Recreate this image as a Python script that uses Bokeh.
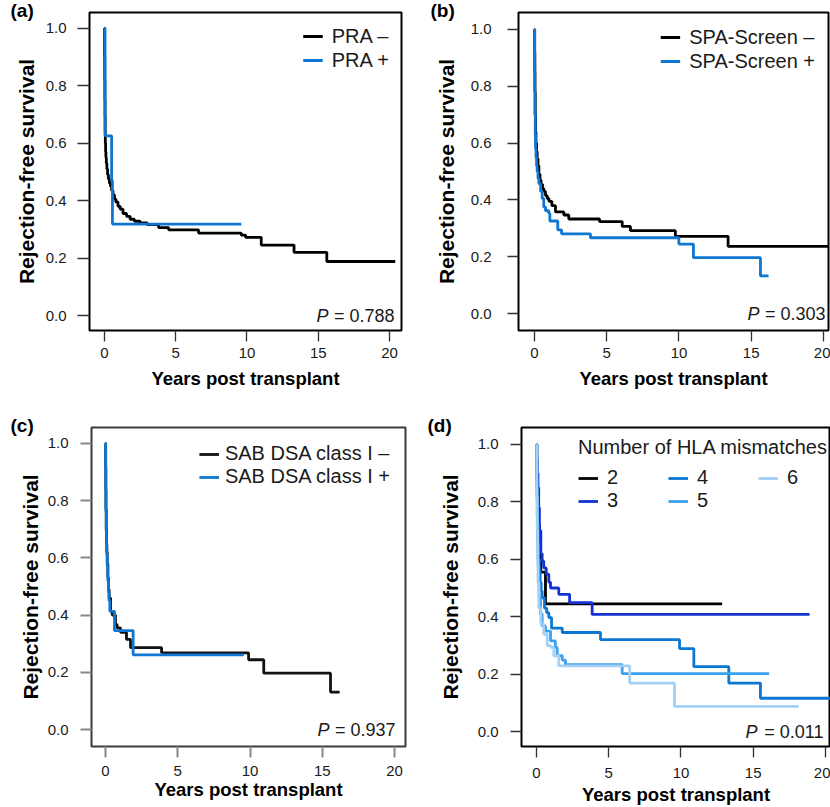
from bokeh.plotting import figure
from bokeh.layouts import column, row
from bokeh.models import Range1d, FixedTicker, PrintfTickFormatter, Legend, LegendItem, Label
from bokeh.embed import file_html
from bokeh.resources import INLINE

FONT = "Liberation Sans"

# ---------------- data ----------------
x_ticks = [0, 5, 10, 15, 20]
y_ticks = [0.0, 0.2, 0.4, 0.6, 0.8, 1.0]

# (a) PRA
pra_neg_t = [0, 0.01, 0.02, 0.03, 0.04, 0.05, 0.06, 0.08, 0.1, 0.13, 0.17, 0.22, 0.28, 0.35, 0.42, 0.5,
             0.6, 0.7, 0.8, 0.95, 1.1, 1.3, 1.55, 1.8, 2.1, 2.5, 3.0, 3.8, 4.5, 6.6, 9.6, 9.9, 11.0,
             13.3, 15.6, 20.4]
pra_neg_s = [1.0, 0.9, 0.82, 0.75, 0.69, 0.64, 0.6, 0.57, 0.55, 0.53, 0.51, 0.49, 0.475, 0.46, 0.45, 0.435,
             0.42, 0.405, 0.395, 0.38, 0.37, 0.355, 0.345, 0.335, 0.328, 0.322, 0.316, 0.306, 0.298, 0.287,
             0.28, 0.272, 0.245, 0.22, 0.188, 0.188]
pra_pos_t = [0, 0.04, 0.5, 0.56, 9.6]
pra_pos_s = [1.0, 0.625, 0.47, 0.318, 0.318]

# (b) SPA-Screen
spa_neg_t = [0, 0.01, 0.02, 0.03, 0.05, 0.07, 0.1, 0.14, 0.18, 0.24, 0.3, 0.38, 0.45, 0.55, 0.64, 0.76,
             0.88, 1.0, 1.2, 1.45, 2.03, 2.37, 4.5, 6.07, 6.64, 9.75, 13.4, 20.35]
spa_neg_s = [1.0, 0.92, 0.85, 0.78, 0.7, 0.64, 0.6, 0.57, 0.545, 0.52, 0.49, 0.47, 0.455, 0.44, 0.43, 0.415,
             0.405, 0.395, 0.38, 0.358, 0.347, 0.333, 0.324, 0.307, 0.292, 0.272, 0.237, 0.237]
spa_pos_t = [0, 0.01, 0.02, 0.03, 0.05, 0.07, 0.1, 0.14, 0.18, 0.24, 0.3, 0.42, 0.53, 0.64, 0.76, 0.99,
             1.06, 1.61, 1.87, 3.87, 9.99, 11.0, 15.64, 16.2]
spa_pos_s = [1.0, 0.88, 0.78, 0.7, 0.63, 0.58, 0.55, 0.52, 0.5, 0.475, 0.457, 0.43, 0.405, 0.375, 0.362,
             0.353, 0.326, 0.295, 0.281, 0.267, 0.245, 0.197, 0.133, 0.133]

# (c) SAB DSA class I
sab_neg_t = [0, 0.01, 0.02, 0.03, 0.05, 0.07, 0.09, 0.12, 0.16, 0.2, 0.25, 0.35, 0.46, 0.69, 0.8, 1.04,
             1.45, 1.73, 3.88, 9.9, 10.95, 15.57, 16.2]
sab_neg_s = [1.0, 0.92, 0.84, 0.77, 0.7, 0.65, 0.62, 0.58, 0.53, 0.49, 0.46, 0.413, 0.40, 0.367, 0.355,
             0.34, 0.315, 0.286, 0.268, 0.244, 0.197, 0.131, 0.131]
sab_pos_t = [0, 0.01, 0.02, 0.03, 0.05, 0.07, 0.09, 0.12, 0.16, 0.2, 0.25, 0.3, 0.62, 1.91, 9.57]
sab_pos_s = [1.0, 0.91, 0.83, 0.76, 0.69, 0.64, 0.61, 0.57, 0.52, 0.48, 0.45, 0.413, 0.346, 0.261, 0.261]

# (d) Number of HLA mismatches
mm2_t = [0, 0.02, 0.05, 0.1, 0.2, 0.3, 0.62, 12.85]
mm2_s = [1.0, 0.9, 0.82, 0.72, 0.62, 0.555, 0.445, 0.445]
mm3_t = [0, 0.02, 0.05, 0.1, 0.15, 0.2, 0.3, 0.39, 0.5, 0.67, 0.85, 0.97, 1.54, 2.29, 3.85, 18.9]
mm3_s = [1.0, 0.95, 0.9, 0.85, 0.78, 0.7, 0.62, 0.594, 0.57, 0.548, 0.52, 0.50, 0.478, 0.449, 0.408, 0.408]
mm4_t = [0, 0.02, 0.05, 0.08, 0.12, 0.15, 0.2, 0.25, 0.32, 0.39, 0.55, 0.7, 0.85, 1.04, 1.78, 4.43, 9.9,
         10.89, 13.31, 15.5, 20.6]
mm4_s = [1.0, 0.88, 0.8, 0.72, 0.65, 0.6, 0.56, 0.52, 0.49, 0.466, 0.43, 0.414, 0.397, 0.36, 0.345, 0.32,
         0.289, 0.226, 0.169, 0.116, 0.116]
mm5_t = [0, 0.02, 0.05, 0.08, 0.1, 0.14, 0.18, 0.28, 0.39, 0.62, 0.97, 1.3, 1.43, 1.78, 2.0, 5.93, 16.1]
mm5_s = [1.0, 0.85, 0.75, 0.66, 0.6, 0.52, 0.47, 0.41, 0.368, 0.35, 0.316, 0.293, 0.264, 0.249, 0.233,
         0.202, 0.202]
mm6_t = [0, 0.02, 0.05, 0.08, 0.1, 0.16, 0.3, 0.5, 0.74, 1.0, 1.2, 1.54, 6.45, 9.55, 18.15]
mm6_s = [1.0, 0.82, 0.7, 0.58, 0.52, 0.43, 0.374, 0.339, 0.299, 0.293, 0.264, 0.229, 0.169, 0.088, 0.088]

mm_labels = ["2", "3", "4", "5", "6"]
mm_colors = ["#000000", "#1432d2", "#0a78d2", "#3aa2ee", "#a4d0f5"]

BLACK = "#000000"
BLUE = "#0f77d2"


def make_panel(width, height, bl, br, bt, bb, xr, yr, outline="#000000", tick_color="#333333",
               ytick_standoff=8, ylab_standoff=4, xtick_standoff=6, xlab_standoff=7):
    p = figure(width=width, height=height, min_border_left=bl, min_border_right=br,
               min_border_top=bt, min_border_bottom=bb,
               x_range=Range1d(*xr), y_range=Range1d(*yr),
               output_backend="svg", toolbar_location=None)
    p.grid.visible = False
    p.outline_line_color = outline
    p.outline_line_width = 2
    p.outline_line_alpha = 1
    p.background_fill_color = "white"
    p.border_fill_color = "white"
    p.xaxis.ticker = FixedTicker(ticks=x_ticks)
    p.yaxis.ticker = FixedTicker(ticks=y_ticks)
    p.xaxis.formatter = PrintfTickFormatter(format="%d")
    p.yaxis.formatter = PrintfTickFormatter(format="%.1f")
    for ax in p.axis:
        ax.axis_line_color = None
        ax.major_tick_in = 0
        ax.major_tick_out = 11
        ax.major_tick_line_color = tick_color
        ax.major_tick_line_width = 1.3
        ax.minor_tick_line_color = None
        ax.major_label_text_font = FONT
        ax.major_label_text_font_size = "15px"
        ax.major_label_text_color = "#1a1a1a"
        ax.axis_label_text_font = FONT
        ax.axis_label_text_font_style = "bold"
        ax.axis_label_text_color = "#000000"
    p.xaxis.axis_label_text_font_size = "18.5px"
    p.yaxis.axis_label_text_font_size = "21px"
    p.yaxis.major_label_standoff = ytick_standoff
    p.xaxis.major_label_standoff = xtick_standoff
    p.yaxis.axis_label_standoff = ylab_standoff
    p.xaxis.axis_label_standoff = xlab_standoff
    p.xaxis.axis_label = "Years post transplant"
    p.yaxis.axis_label = "Rejection-free survival"
    return p


def add_tag(p, text, dx):
    # panel letter as the figure's own title, shifted left of the frame
    p.title.text = text
    p.title.align = "left"
    p.title.offset = dx
    p.title.standoff = -20
    p.title.vertical_align = "top"
    p.title.text_font = FONT
    p.title.text_font_style = "bold"
    p.title.text_font_size = "19px"
    p.title.text_line_height = 1.7
    p.title.text_color = "#000000"


def add_pval(p, value_text, dx):
    p.add_layout(Label(x=p.x_range.end, y=0.0, x_offset=dx, text=value_text,
                       text_font=FONT, text_font_size="18px", text_align="right",
                       text_baseline="middle", text_color="#1a1a1a"))
    p.add_layout(Label(x=p.x_range.end, y=0.0, x_offset=dx - 66, text="P",
                       text_font=FONT, text_font_size="18px", text_font_style="italic",
                       text_align="right", text_baseline="middle", text_color="#1a1a1a"))


def style_legend(lg, margin, lh=24, spacing=-4):
    lg.border_line_color = None
    lg.background_fill_alpha = 0
    lg.label_text_font = FONT
    lg.label_text_font_size = "20px"
    lg.label_text_color = "#1a1a1a"
    lg.glyph_width = 20
    lg.glyph_height = lh
    lg.label_height = lh
    lg.spacing = spacing
    lg.padding = 0
    lg.margin = margin
    lg.label_standoff = 9


LW = 2.8

# ---------------- panel (a) ----------------
pa = make_panel(418, 404, 89, 17, 12, 74, (-1.05, 20.84), (-0.052, 1.054),
                ytick_standoff=11, ylab_standoff=5)
pa.yaxis.major_tick_out = 12
ra1 = pa.step(pra_neg_t, pra_neg_s, mode="after", line_color=BLACK, line_width=LW)
ra2 = pa.step(pra_pos_t, pra_pos_s, mode="after", line_color=BLUE, line_width=LW)
lga = Legend(items=[LegendItem(label="PRA \u2013", renderers=[ra1]),
                    LegendItem(label="PRA +", renderers=[ra2])], location="top_right")
style_legend(lga, 12)
pa.add_layout(lga)
add_tag(pa, "(a)", -79)
add_pval(pa, "= 0.788", -7)

# ---------------- panel (b) ----------------
pb = make_panel(412, 404, 100, 2, 10, 72, (-1.11, 20.35), (-0.059, 1.059),
                ytick_standoff=16, ylab_standoff=10)
rb1 = pb.step(spa_neg_t, spa_neg_s, mode="after", line_color=BLACK, line_width=LW)
rb2 = pb.step(spa_pos_t, spa_pos_s, mode="after", line_color=BLUE, line_width=LW)
lgb = Legend(items=[LegendItem(label="SPA-Screen \u2013", renderers=[rb1]),
                    LegendItem(label="SPA-Screen +", renderers=[rb2])], location="top_right")
style_legend(lgb, 13)
pb.add_layout(lgb)
add_tag(pb, "(b)", -88)
add_pval(pb, "= 0.303", -3)

# ---------------- panel (c) ----------------
pc = make_panel(418, 403, 91, 13, 23, 57, (-0.97, 20.76), (-0.059, 1.055),
                outline="#3a3a3a", tick_color="#888888", ytick_standoff=12, ylab_standoff=3,
                xtick_standoff=8, xlab_standoff=0)
pc.xaxis.major_tick_line_width = 2
pc.yaxis.major_tick_line_width = 2
rc1 = pc.step(sab_neg_t, sab_neg_s, mode="after", line_color="#111111", line_width=LW)
rc2 = pc.step(sab_pos_t, sab_pos_s, mode="after", line_color=BLUE, line_width=LW)
lgc = Legend(items=[LegendItem(label="SAB DSA class I \u2013", renderers=[rc1]),
                    LegendItem(label="SAB DSA class I +", renderers=[rc2])], location="top_right")
style_legend(lgc, 15, lh=22, spacing=-5)
lgc.label_standoff = 6
pc.add_layout(lgc)
add_tag(pc, "(c)", -81)
add_pval(pc, "= 0.937", -10)

# ---------------- panel (d) ----------------
pd_ = make_panel(412, 403, 103, 0, 22, 61, (-1.04, 20.35), (-0.052, 1.059),
                 ytick_standoff=12, ylab_standoff=13, xtick_standoff=10, xlab_standoff=3)
mm_t = [mm2_t, mm3_t, mm4_t, mm5_t, mm6_t]
mm_s = [mm2_s, mm3_s, mm4_s, mm5_s, mm6_s]
items_d = []
for lab, col, tt, ss in zip(mm_labels, mm_colors, mm_t, mm_s):
    r = pd_.step(tt, ss, mode="after", line_color=col, line_width=LW)
    items_d.append(LegendItem(label=lab, renderers=[r]))
lgd = Legend(items=items_d, location=(57, 234), nrows=2, title="Number of HLA mismatches")
style_legend(lgd, 0, lh=20, spacing=-3)
lgd.title_text_font = FONT
lgd.title_text_font_size = "20px"
lgd.title_text_font_style = "normal"
lgd.title_text_color = "#1a1a1a"
lgd.title_standoff = 7
lgd.label_width = 61
pd_.add_layout(lgd)
add_tag(pd_, "(d)", -94)
add_pval(pd_, "= 0.011", -7)

layout = column(row(pa, pb), row(pc, pd_))

with open("out.html", "w") as f:
    f.write(file_html(layout, INLINE))
